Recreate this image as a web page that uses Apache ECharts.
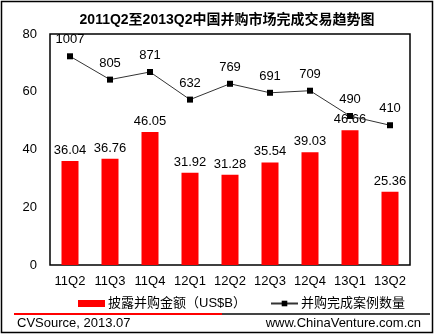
<!DOCTYPE html>
<html><head><meta charset="utf-8">
<script src="https://cdn.jsdelivr.net/npm/echarts@6/dist/echarts.min.js"></script>
<style>html,body{margin:0;padding:0;background:#fff}#c{width:435px;height:335px}</style>
</head><body><div id="c"></div>
<script>
const categories = ['11Q2','11Q3','11Q4','12Q1','12Q2','12Q3','12Q4','13Q1','13Q2'];
const amountValues = [36.04,36.76,46.05,31.92,31.28,35.54,39.03,46.66,25.36];
const dealCounts = [1007,805,871,632,769,691,709,490,410];
const leftTicks = [0,20,40,60,80];
const F = 'Arial, "Liberation Sans", "Noto Sans CJK SC", sans-serif';
const chart = echarts.init(document.getElementById('c'), null, {renderer:'canvas'});
chart.setOption({
  animation:false,
  title:{text:'2011Q2至2013Q2中国并购市场完成交易趋势图',left:222,top:8,textAlign:'center',
    textStyle:{fontFamily:F,fontSize:14,fontWeight:'bold',color:'#000'}},
  grid:{left:50,top:34,width:360,height:231,show:true,borderColor:'#000',borderWidth:1.5,backgroundColor:'transparent'},
  legend:[
    {top:292,left:73,itemWidth:27,itemHeight:7,itemGap:0,
      textStyle:{fontFamily:F,fontSize:13,color:'#000',padding:[0,0,0,-2]},
      data:[{name:'披露并购金额（US$B）',icon:'rect'}]},
    {top:292,left:265,itemWidth:27,itemHeight:7,itemGap:0,
      textStyle:{fontFamily:F,fontSize:13,color:'#000',padding:[0,0,0,-2]},
      data:[{name:'并购完成案例数量'}]}
  ],
  xAxis:{type:'category',data:categories,axisTick:{show:false},axisLine:{show:false},
    axisLabel:{fontFamily:F,fontSize:13,color:'#000',margin:10,interval:0,hideOverlap:false}},
  yAxis:[{type:'value',min:0,max:80,interval:20,axisLine:{show:false},axisTick:{show:false},splitLine:{show:false},
    axisLabel:{fontFamily:F,fontSize:13,color:'#000',margin:13,
      formatter:v=>leftTicks.includes(v)?String(v):''}},
    {type:'value',min:-800,max:1200,show:false,splitLine:{show:false}}],
  series:[
    {name:'披露并购金额（US$B）',type:'bar',data:amountValues,barWidth:17,itemStyle:{color:'#ff0000'},
      label:{show:true,position:'top',distance:4,fontFamily:F,fontSize:13,color:'#000'}},
    {name:'并购完成案例数量',type:'line',yAxisIndex:1,data:dealCounts,symbol:'rect',symbolSize:6,
      lineStyle:{color:'#333',width:1},itemStyle:{color:'#000'},
      label:{show:true,position:'top',distance:7,fontFamily:F,fontSize:13,color:'#000'}}
  ],
  graphic:[
    {type:'rect',shape:{x:1.5,y:1.5,width:431,height:331},style:{fill:'none',stroke:'#000',lineWidth:1.5}},
    {type:'rect',shape:{x:14,y:313,width:208,height:2},style:{fill:'#ff0000'}},
    {type:'rect',shape:{x:222,y:313,width:208,height:2},style:{fill:'#444'}},
    {type:'text',left:17,top:317,style:{text:'CVSource, 2013.07',font:'13px '+F,fill:'#000'}},
    {type:'text',right:14,top:317,style:{text:'www.ChinaVenture.com.cn',font:'13px '+F,fill:'#000'}}
  ]
});
</script></body></html>
